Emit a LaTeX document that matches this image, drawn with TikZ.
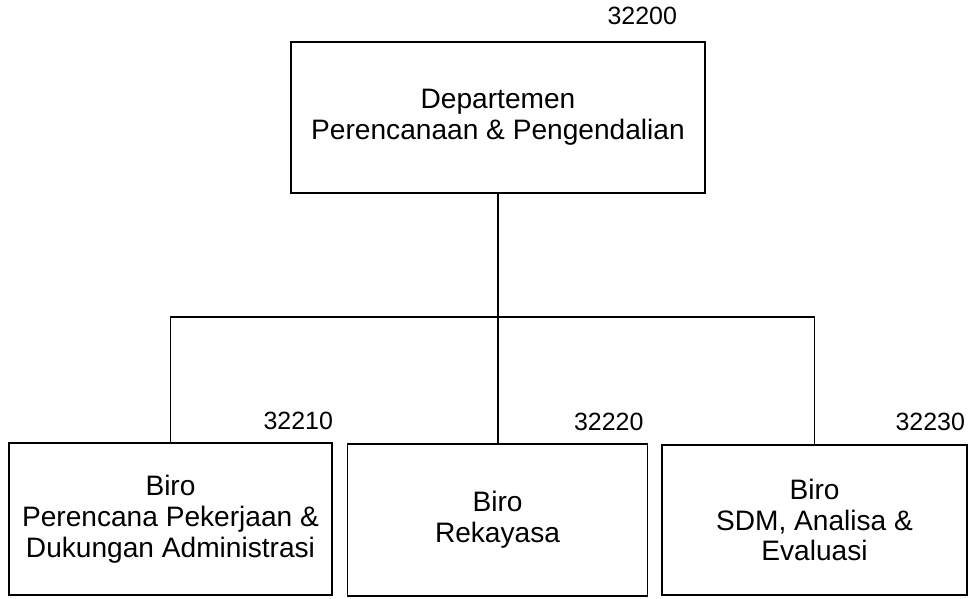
\documentclass[tikz,border=0pt]{standalone}
\usepackage{fontspec}
\setmainfont{Liberation Sans}
\usepackage{tikz}
\usetikzlibrary{
  calc,
  positioning
}
\tikzset{
  unit/.style={draw, line width=0.9pt, align=center, inner sep=0pt,
    font=\fontsize{16}{17.5}\selectfont},
  code/.style={anchor=south east, inner sep=0pt,
    font=\fontsize{14.2}{16}\selectfont}
}

\begin{document}
\begin{tikzpicture}[x=0.02cm, y=-0.02cm, line width=0.9pt]
      \useasboundingbox (0,0) rectangle (969,598);

      % departemen
      \node[unit, minimum width=8.28cm, minimum height=3.02cm] (dept) at (498,117.5) {Departemen\\Perencanaan \& Pengendalian};
      \node[code] (deptcode) at ([xshift=-0.56cm, yshift=0.32cm]dept.north east) {32200};

      % biro
      \node[unit, minimum width=6.46cm, minimum height=3.04cm] (biroA) at (170.5,519) {Biro\\Perencana Pekerjaan \&\\Dukungan Administrasi};
      \node[unit, minimum width=6cm, minimum height=3.04cm] (biroB) at (497.5,520) {Biro\\Rekayasa};
      \node[unit, minimum width=6.1cm, minimum height=3cm] (biroC) at (814.5,520) {Biro\\SDM, Analisa \&\\Evaluasi};

      % kode biro
      \node[code] (biroAcode) at ([xshift=0.02cm, yshift=0.24cm]biroA.north east) {32210};
      \node[code] (biroBcode) at ([xshift=-0.08cm, yshift=0.24cm]biroB.north east) {32220};
      \node[code] (biroCcode) at ([xshift=-0.04cm, yshift=0.26cm]biroC.north east) {32230};

      % garis
      \coordinate (split) at (498,317);
      \draw (dept.south) -- (split);
      \draw (biroA.north) |- (split) -| (biroC.north);
      \draw (split) -- (split |- biroB.north);
\end{tikzpicture}
\end{document}
